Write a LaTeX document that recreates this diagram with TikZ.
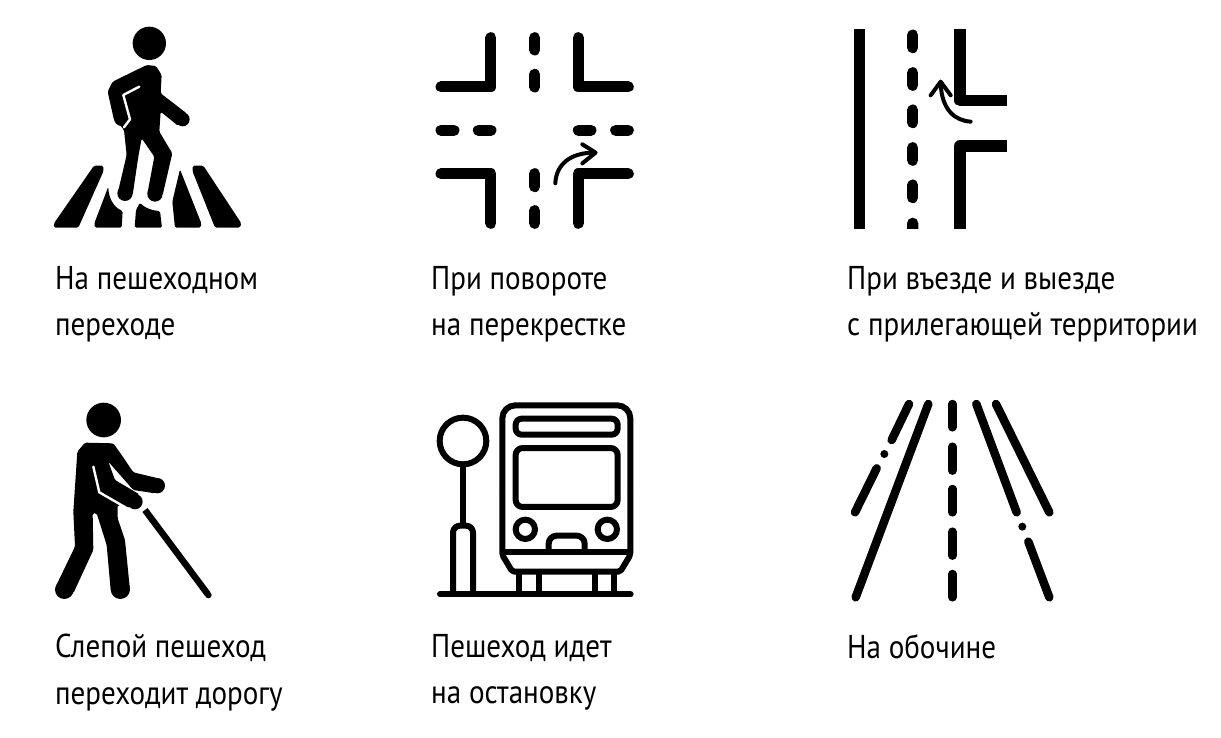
\documentclass[tikz,border=0pt]{standalone}
\usepackage{fontspec}
\setmainfont[FakeStretch=.88]{PT Sans}
\begin{document}
\begin{tikzpicture}[
		x=1pt, y=-1pt,
		icon/.style={x=.3333pt, y=-.3333pt},
		label/.style={anchor=north west, align=left, inner sep=0pt, font=\fontsize{33}{46.5}\selectfont},
		solid/.style={fill=black, draw=none, rounded corners=1.5pt},
		slit/.style={draw=white, line width=2.4pt, line join=round, line cap=round},
		road/.style={draw=black, line width=11pt, line cap=round, line join=round},
		edge/.style={draw=black, line width=11.3pt, line join=round},
		turn/.style={draw=black, line width=4pt, line cap=round, line join=round},
		outline/.style={draw=black, line width=6pt, line join=round},
		lane/.style={draw=black, line width=8.5pt, line cap=round}
	]
	\useasboundingbox (0,0) rectangle (1221,737);

	% Crossing
	\begin{scope}[shift={(40,10)}, icon]
		\fill (328,100) circle (50);
		\path[solid] (320,165) -- (348,168) -- (365,195) -- (362,250) -- (440,310) -- (415,348) -- (362,305) -- (358,365) -- (397,430) -- (368,555) -- (322,552) -- (343,440) -- (305,385) -- (295,440) -- (278,555) -- (233,550) -- (260,435) -- (252,360) -- (240,345) -- (222,330) -- (203,245) -- (218,215) -- cycle;
		\fill (428,328) circle (21);
		\fill (345,552) circle (23);
		\fill (255,550) circle (23);
		\fill (245,325) circle (23);
		\draw[slit] (298,230) -- (250,255) -- (270,328) -- (252,352);
		\path[solid] (162,467) -- (190,467) -- (190,485) -- (115,653) -- (42,653) -- (42,640) -- cycle;
		\path[solid] (205,530) .. controls (206,565) and (222,592) .. (248,603) -- (245,653) -- (165,653) -- (163,640) -- cycle;
		\path[solid] (300,578) .. controls (312,592) and (335,602) .. (360,603) -- (366,653) -- (284,653) -- (288,600) -- cycle;
		\path[solid] (420,478) -- (484,640) -- (482,653) -- (405,653) -- (397,575) -- cycle;
		\path[solid] (458,467) -- (490,467) -- (604,640) -- (600,653) -- (525,653) -- (458,485) -- cycle;
	\end{scope}

	% Junction
	\begin{scope}[shift={(420,20)}, icon]
		\draw[road] (63,201) -- (213,201) -- (213,53);
		\draw[road] (475,53) -- (475,201) -- (625,201);
		\draw[road] (63,461) -- (213,461) -- (213,610);
		\draw[road] (625,461) -- (475,461) -- (475,610);
		\foreach \ya/\yb in {53/90, 163/201, 461/500, 572/610}
			\draw[road] (344,\ya) -- (344,\yb);
		\foreach \xa/\xb in {63/102, 175/213, 475/513, 587/625}
			\draw[road] (\xa,331) -- (\xb,331);
		\draw[turn] (406,490) .. controls (408,435) and (450,397) .. (525,398);
		\draw[turn] (487,373) -- (527,398) -- (487,430);
	\end{scope}

	% Side road
	\begin{scope}[shift={(840,20)}, icon]
		\draw[edge] (59,28) -- (59,627);
		\draw[edge] (360,28) -- (360,242) -- (502,242);
		\draw[edge] (502,378) -- (360,378) -- (360,627);
		\foreach \ya/\yb in {45/83, 158/196, 270/308, 383/421, 495/533}
			\draw[road] (218,\ya) -- (218,\yb);
		\fill (201,627) -- (201,610) arc[start angle=180, end angle=360, radius=17] -- (235,627) -- cycle;
		\draw[turn] (392,305) .. controls (345,302) and (305,270) .. (302,190);
		\draw[turn] (272,226) -- (302,185) -- (332,226);
	\end{scope}

	% Blind walker
	\begin{scope}[shift={(40,395)}, icon]
		\fill (191,75) circle (52);
		\path[solid] (135,143) -- (220,145) -- (245,180) -- (280,232) -- (355,250) -- (345,295) -- (280,285) -- (205,200) -- (225,255) -- (298,298) -- (272,338) -- (233,330) -- (233,370) -- (255,435) -- (270,585) -- (212,585) -- (200,450) -- (170,355) -- (158,355) -- (160,465) -- (100,595) -- (47,575) -- (105,455) -- (100,350) -- (112,170) -- cycle;
		\fill (352,272) circle (23);
		\fill (285,320) circle (23);
		\fill (241,583) circle (29);
		\fill (73,584) circle (28);
		\draw[slit] (160,215) -- (178,292) -- (270,345);
		\draw[draw=black, line width=6.5pt] (315,345) -- (503,597);
		\fill (505,600) circle (10);
	\end{scope}

	% Bus stop
	\begin{scope}[shift={(425,395)}, icon]
		\draw[outline] (114,138) circle (70);
		\draw[outline] (114,208) -- (114,385);
		\draw[outline, rounded corners=7pt] (84,598) -- (84,392) -- (144,392) -- (144,598);
		\draw[outline, line cap=round] (45,598) -- (617,598);
		\draw[outline, rounded corners=13pt] (232,300) -- (232,31) -- (616,31) -- (616,300);
		\draw[outline, rounded corners=2pt] (232,300) -- (232,480) -- (262,530) -- (586,530) -- (616,480) -- (616,300);
		\draw[outline] (232,470) -- (616,470);
		\draw[outline, rounded corners=6pt] (272,71) rectangle (578,119);
		\draw[outline, rounded corners=7pt] (272,159) rectangle (578,336);
		\draw[outline] (301,403) circle (29);
		\draw[outline] (547,403) circle (29);
		\draw[outline, rounded corners=8pt] (371,470) -- (371,422) -- (479,422) -- (479,470);
		\draw[outline] (281,530) -- (281,598);
		\draw[outline] (341,530) -- (341,598);
		\draw[outline] (510,530) -- (510,598);
		\draw[outline] (568,530) -- (568,598);
	\end{scope}

	% Shoulder
	\begin{scope}[shift={(840,395)}, icon]
		\draw[lane] (207,27) -- (155,135);
		\fill (133,177) circle (12);
		\draw[lane] (110,220) -- (45,352);
		\draw[lane] (265,27) -- (47,607);
		\foreach \ya/\yb in {27/97, 155/227, 282/352, 410/482, 537/607}
			\draw[lane] (337,\ya) -- (337,\yb);
		\draw[lane] (409,27) -- (530,352);
		\fill (547,395) circle (12);
		\draw[lane] (565,440) -- (628,607);
		\draw[lane] (468,27) -- (628,352);
	\end{scope}

	% Captions
	\node[label] (crossing) at (55,266) {На пешеходном\\переходе};
	\node[label] (junction) at (431,266) {При повороте\\на перекрестке};
	\node[label] (sideroad) at (847,266) {При въезде и выезде\\с прилегающей территории};
	\node[label] (blind) at (55,634) {Слепой пешеход\\переходит дорогу};
	\node[label] (busstop) at (431,634) {Пешеход идет\\на остановку};
	\node[label] (shoulder) at (847,634) {На обочине};
\end{tikzpicture}
\end{document}
